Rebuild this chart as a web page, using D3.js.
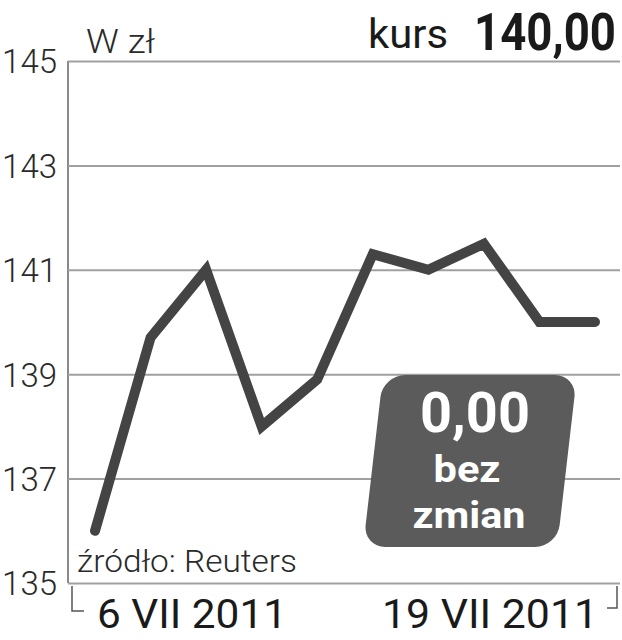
<!DOCTYPE html>
<html>
<head>
<meta charset="utf-8">
<script src="https://cdn.jsdelivr.net/npm/d3@7"></script>
<style>
  body { margin: 0; background: #fff; }
  svg { display: block; }
</style>
</head>
<body>
<script>
const width = 622;
const height = 640;

// data
const days = ["6 VII", "7 VII", "8 VII", "11 VII", "12 VII", "13 VII", "14 VII", "15 VII", "18 VII", "19 VII"];
const prices = [136.0, 139.7, 141.0, 138.0, 138.9, 141.3, 141.0, 141.5, 140.0, 140.0];
const yTicks = [135, 137, 139, 141, 143, 145];
const firstLabel = "6 VII 2011";
const lastLabel = "19 VII 2011";

const lightFont = "Roboto, 'Open Sans', sans-serif";
const boldFont = "'Roboto', 'DejaVu Sans', sans-serif";

const x = d3.scalePoint()
  .domain(days)
  .range([95, 595]);

const y = d3.scaleLinear()
  .domain([135, 145])
  .range([583, 61]);

const svg = d3.select("body")
  .append("svg")
  .attr("width", width)
  .attr("height", height);

// grid lines
const yAxis = d3.axisLeft(y)
  .tickValues(yTicks)
  .tickSize(-(620 - 68))
  .tickFormat(d => d);

const gAxis = svg.append("g")
  .attr("transform", "translate(68,0)")
  .call(yAxis);

gAxis.select(".domain")
  .attr("d", `M0,${y(145)}V${y(135)}`)
  .attr("stroke", "#8a8a8a")
  .attr("stroke-width", 2);

gAxis.selectAll(".tick line")
  .attr("stroke", "#a0a0a0")
  .attr("stroke-width", 2);

gAxis.selectAll(".tick text")
  .attr("x", -11)
  .attr("dy", "0.36em")
  .attr("fill", "#2a2a2a")
  .style("font-family", lightFont)
  .style("font-weight", 300)
  .style("font-size", "33px");

// brackets under the x axis
svg.append("path")
  .attr("d", `M72,${y(135) + 3}V611H84`)
  .attr("fill", "none")
  .attr("stroke", "#555")
  .attr("stroke-width", 1.5);

svg.append("path")
  .attr("d", `M617,${y(135) + 3}V608H607`)
  .attr("fill", "none")
  .attr("stroke", "#555")
  .attr("stroke-width", 1.5);

// price line
const line = d3.line()
  .x((d, i) => x(days[i]))
  .y(d => y(d));

svg.append("path")
  .datum(prices)
  .attr("d", line)
  .attr("fill", "none")
  .attr("stroke", "#444")
  .attr("stroke-width", 10)
  .attr("stroke-linejoin", "miter")
  .attr("stroke-linecap", "round");

// squeeze a text horizontally so it spans the given width
function squeeze(sel, x0, y0, w) {
  const natural = sel.node().getComputedTextLength();
  sel.attr("x", 0).attr("y", 0)
    .attr("transform", `translate(${x0},${y0}) scale(${w / natural},1)`);
}

// labels
svg.append("text")
  .attr("x", 86).attr("y", 53)
  .attr("textLength", 69)
  .attr("lengthAdjust", "spacingAndGlyphs")
  .attr("fill", "#2a2a2a")
  .style("font-family", lightFont)
  .style("font-weight", 300)
  .style("font-size", "34px")
  .text("W zł");

svg.append("text")
  .attr("x", 368).attr("y", 48)
  .attr("textLength", 80)
  .attr("lengthAdjust", "spacingAndGlyphs")
  .attr("fill", "#1a1a1a")
  .style("font-family", lightFont)
  .style("font-weight", 400)
  .style("font-size", "40px")
  .text("kurs");

const price = svg.append("text")
  .attr("fill", "#1a1a1a")
  .style("font-family", boldFont)
  .style("font-weight", 700)
  .style("font-size", "52px")
  .text("140,00");
squeeze(price, 474, 50, 142);

svg.append("text")
  .attr("x", 77).attr("y", 572)
  .attr("textLength", 220)
  .attr("lengthAdjust", "spacingAndGlyphs")
  .attr("fill", "#2a2a2a")
  .style("font-family", lightFont)
  .style("font-weight", 300)
  .style("font-size", "32px")
  .text("źródło: Reuters");

svg.append("text")
  .attr("x", 97).attr("y", 628)
  .attr("textLength", 190)
  .attr("lengthAdjust", "spacingAndGlyphs")
  .attr("fill", "#1a1a1a")
  .style("font-family", lightFont)
  .style("font-weight", 400)
  .style("font-size", "40px")
  .text(firstLabel);

svg.append("text")
  .attr("x", 382).attr("y", 628)
  .attr("textLength", 216)
  .attr("lengthAdjust", "spacingAndGlyphs")
  .attr("fill", "#1a1a1a")
  .style("font-family", lightFont)
  .style("font-weight", 400)
  .style("font-size", "40px")
  .text(lastLabel);

// change badge
const badge = svg.append("g");
badge.append("rect")
  .attr("x", 0).attr("y", 0)
  .attr("width", 194).attr("height", 172)
  .attr("rx", 22)
  .attr("fill", "#5b5b5b")
  .attr("transform", "translate(383,375) skewX(-6.6)");

badge.append("text")
  .attr("x", 475).attr("y", 432)
  .attr("text-anchor", "middle")
  .attr("textLength", 110)
  .attr("lengthAdjust", "spacingAndGlyphs")
  .attr("fill", "#fff")
  .style("font-family", boldFont)
  .style("font-weight", 700)
  .style("font-size", "56px")
  .text("0,00");

badge.append("text")
  .attr("x", 467).attr("y", 482)
  .attr("text-anchor", "middle")
  .attr("textLength", 67)
  .attr("lengthAdjust", "spacingAndGlyphs")
  .attr("fill", "#fff")
  .style("font-family", boldFont)
  .style("font-weight", 700)
  .style("font-size", "37px")
  .text("bez");

badge.append("text")
  .attr("x", 469).attr("y", 528)
  .attr("text-anchor", "middle")
  .attr("textLength", 113)
  .attr("lengthAdjust", "spacingAndGlyphs")
  .attr("fill", "#fff")
  .style("font-family", boldFont)
  .style("font-weight", 700)
  .style("font-size", "37px")
  .text("zmian");
</script>
</body>
</html>
